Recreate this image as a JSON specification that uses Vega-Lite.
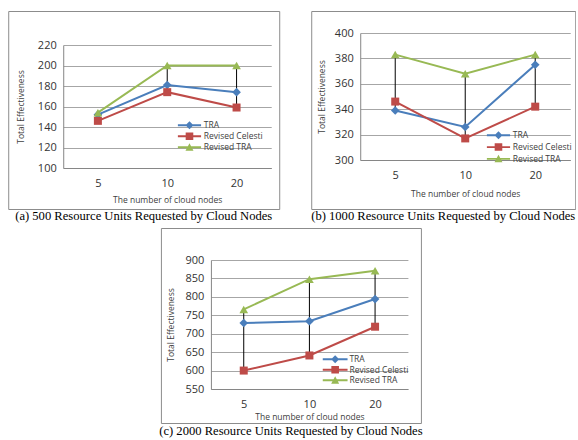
{
  "$schema": "https://vega.github.io/schema/vega-lite/v6.json",
  "padding": {"left": 7, "top": 10, "right": 0, "bottom": 0},
  "background": "white",
  "datasets": {
    "a": [
      {"nodes": 5, "series": "TRA", "value": 152},
      {"nodes": 10, "series": "TRA", "value": 181},
      {"nodes": 20, "series": "TRA", "value": 174},
      {"nodes": 5, "series": "Revised Celesti", "value": 146},
      {"nodes": 10, "series": "Revised Celesti", "value": 174},
      {"nodes": 20, "series": "Revised Celesti", "value": 159},
      {"nodes": 5, "series": "Revised TRA", "value": 154},
      {"nodes": 10, "series": "Revised TRA", "value": 200},
      {"nodes": 20, "series": "Revised TRA", "value": 200}
    ],
    "b": [
      {"nodes": 5, "series": "TRA", "value": 339},
      {"nodes": 10, "series": "TRA", "value": 326},
      {"nodes": 20, "series": "TRA", "value": 375},
      {"nodes": 5, "series": "Revised Celesti", "value": 346},
      {"nodes": 10, "series": "Revised Celesti", "value": 317},
      {"nodes": 20, "series": "Revised Celesti", "value": 342},
      {"nodes": 5, "series": "Revised TRA", "value": 383},
      {"nodes": 10, "series": "Revised TRA", "value": 368},
      {"nodes": 20, "series": "Revised TRA", "value": 383}
    ],
    "c": [
      {"nodes": 5, "series": "TRA", "value": 729},
      {"nodes": 10, "series": "TRA", "value": 734},
      {"nodes": 20, "series": "TRA", "value": 794},
      {"nodes": 5, "series": "Revised Celesti", "value": 600},
      {"nodes": 10, "series": "Revised Celesti", "value": 641},
      {"nodes": 20, "series": "Revised Celesti", "value": 719},
      {"nodes": 5, "series": "Revised TRA", "value": 766},
      {"nodes": 10, "series": "Revised TRA", "value": 848},
      {"nodes": 20, "series": "Revised TRA", "value": 871}
    ]
  },
  "spacing": 3,
  "center": true,
  "resolve": {"scale": {"color": "independent", "shape": "independent"}, "legend": {"color": "independent", "shape": "independent"}},
  "vconcat": [
    {
      "spacing": 30,
      "resolve": {"scale": {"color": "independent", "shape": "independent"}, "legend": {"color": "independent", "shape": "independent"}},
      "hconcat": [
        {
          "width": 271, "height": 198,
          "title": {"text": "(a) 500 Resource Units Requested by Cloud Nodes", "offset": 1},
          "data": {"name": "a"},
          "encoding": {
            "x": {"field": "nodes", "type": "ordinal", "scale": {"type": "point", "range": [55, 263], "padding": 0.5}, "axis": {"title": "The number of cloud nodes", "offset": -41, "titlePadding": 7}},
            "y": {"field": "value", "type": "quantitative", "scale": {"domain": [100, 220], "range": [157, 34], "nice": false, "zero": false}, "axis": {"title": "Total Effectiveness", "offset": -55, "values": [100, 120, 140, 160, 180, 200, 220], "titlePadding": 12}}
          },
          "layer": [
            {"mark": {"type": "point", "filled": true, "size": 0, "opacity": 1},
             "encoding": {
               "color": {"field": "series", "type": "nominal", "scale": {"domain": ["TRA", "Revised Celesti", "Revised TRA"], "range": ["#4A7EBB", "#BE4B48", "#98B954"]},
                 "legend": {"title": null, "orient": "none", "legendX": 177, "legendY": 110, "symbolSize": 64, "labelOffset": 10, "rowPadding": 2, "padding": 0, "symbolStrokeWidth": 0}},
               "shape": {"field": "series", "type": "nominal", "scale": {"domain": ["TRA", "Revised Celesti", "Revised TRA"], "range": ["M-2.9,-0.22L2.9,-0.22L2.9,0.22L-2.9,0.22Z M0,-1L1,0L0,1L-1,0Z", "M-2.9,-0.22L2.9,-0.22L2.9,0.22L-2.9,0.22Z M-0.95,-0.95L0.95,-0.95L0.95,0.95L-0.95,0.95Z", "M-2.9,-0.22L2.9,-0.22L2.9,0.22L-2.9,0.22Z M0,-1L1,0.85L-1,0.85Z"]},
                 "legend": {"title": null, "orient": "none", "legendX": 177, "legendY": 110, "symbolSize": 64, "labelOffset": 10, "rowPadding": 2, "padding": 0, "symbolStrokeWidth": 0}}
             }},
            {"mark": {"type": "rule", "color": "#000000", "strokeWidth": 1}, "encoding": {"y": {"aggregate": "min", "field": "value", "type": "quantitative"}, "y2": {"aggregate": "max", "field": "value"}}},
            {"transform": [{"filter": "datum.series === 'TRA'"}], "mark": {"type": "line", "strokeWidth": 2, "color": "#4A7EBB"}, "encoding": {}},
            {"transform": [{"filter": "datum.series === 'Revised Celesti'"}], "mark": {"type": "line", "strokeWidth": 2, "color": "#BE4B48"}, "encoding": {}},
            {"transform": [{"filter": "datum.series === 'Revised TRA'"}], "mark": {"type": "line", "strokeWidth": 2, "color": "#98B954"}, "encoding": {}},
            {"transform": [{"filter": "datum.series === 'TRA'"}], "mark": {"type": "point", "shape": "diamond", "filled": true, "size": 75, "opacity": 1, "color": "#4A7EBB"}},
            {"transform": [{"filter": "datum.series === 'Revised Celesti'"}], "mark": {"type": "point", "shape": "square", "filled": true, "size": 64, "opacity": 1, "color": "#BE4B48"}},
            {"transform": [{"filter": "datum.series === 'Revised TRA'"}], "mark": {"type": "point", "shape": "triangle-up", "filled": true, "size": 75, "opacity": 1, "color": "#98B954"}}
          ]
        },
        {
          "width": 264, "height": 198,
          "title": {"text": "(b) 1000 Resource Units Requested by Cloud Nodes", "offset": 1},
          "data": {"name": "b"},
          "encoding": {
            "x": {"field": "nodes", "type": "ordinal", "scale": {"type": "point", "range": [49, 259], "padding": 0.5}, "axis": {"title": "The number of cloud nodes", "offset": -49, "titlePadding": 9}},
            "y": {"field": "value", "type": "quantitative", "scale": {"domain": [300, 400], "range": [149, 22], "nice": false, "zero": false}, "axis": {"title": "Total Effectiveness", "offset": -49, "values": [300, 320, 340, 360, 380, 400], "titlePadding": 8}}
          },
          "layer": [
            {"mark": {"type": "point", "filled": true, "size": 0, "opacity": 1},
             "encoding": {
               "color": {"field": "series", "type": "nominal", "scale": {"domain": ["TRA", "Revised Celesti", "Revised TRA"], "range": ["#4A7EBB", "#BE4B48", "#98B954"]},
                 "legend": {"title": null, "orient": "none", "legendX": 183, "legendY": 120, "symbolSize": 64, "labelOffset": 10, "rowPadding": 2.8, "padding": 0, "symbolStrokeWidth": 0}},
               "shape": {"field": "series", "type": "nominal", "scale": {"domain": ["TRA", "Revised Celesti", "Revised TRA"], "range": ["M-2.9,-0.22L2.9,-0.22L2.9,0.22L-2.9,0.22Z M0,-1L1,0L0,1L-1,0Z", "M-2.9,-0.22L2.9,-0.22L2.9,0.22L-2.9,0.22Z M-0.95,-0.95L0.95,-0.95L0.95,0.95L-0.95,0.95Z", "M-2.9,-0.22L2.9,-0.22L2.9,0.22L-2.9,0.22Z M0,-1L1,0.85L-1,0.85Z"]},
                 "legend": {"title": null, "orient": "none", "legendX": 183, "legendY": 120, "symbolSize": 64, "labelOffset": 10, "rowPadding": 2.8, "padding": 0, "symbolStrokeWidth": 0}}
             }},
            {"mark": {"type": "rule", "color": "#000000", "strokeWidth": 1}, "encoding": {"y": {"aggregate": "min", "field": "value", "type": "quantitative"}, "y2": {"aggregate": "max", "field": "value"}}},
            {"transform": [{"filter": "datum.series === 'TRA'"}], "mark": {"type": "line", "strokeWidth": 2, "color": "#4A7EBB"}, "encoding": {}},
            {"transform": [{"filter": "datum.series === 'Revised Celesti'"}], "mark": {"type": "line", "strokeWidth": 2, "color": "#BE4B48"}, "encoding": {}},
            {"transform": [{"filter": "datum.series === 'Revised TRA'"}], "mark": {"type": "line", "strokeWidth": 2, "color": "#98B954"}, "encoding": {}},
            {"transform": [{"filter": "datum.series === 'TRA'"}], "mark": {"type": "point", "shape": "diamond", "filled": true, "size": 75, "opacity": 1, "color": "#4A7EBB"}},
            {"transform": [{"filter": "datum.series === 'Revised Celesti'"}], "mark": {"type": "point", "shape": "square", "filled": true, "size": 64, "opacity": 1, "color": "#BE4B48"}},
            {"transform": [{"filter": "datum.series === 'Revised TRA'"}], "mark": {"type": "point", "shape": "triangle-up", "filled": true, "size": 75, "opacity": 1, "color": "#98B954"}}
          ]
        }
      ]
    },
    {
      "width": 260, "height": 195,
      "title": {"text": "(c) 2000 Resource Units Requested by Cloud Nodes", "offset": 2},
      "data": {"name": "c"},
      "encoding": {
        "x": {"field": "nodes", "type": "ordinal", "scale": {"type": "point", "range": [50, 247], "padding": 0.5}, "axis": {"title": "The number of cloud nodes", "offset": -34, "titlePadding": 3}},
        "y": {"field": "value", "type": "quantitative", "scale": {"domain": [550, 900], "range": [161, 32], "nice": false, "zero": false}, "axis": {"title": "Total Effectiveness", "offset": -50, "values": [550, 600, 650, 700, 750, 800, 850, 900], "titlePadding": 10}}
      },
      "layer": [
        {"mark": {"type": "point", "filled": true, "size": 0, "opacity": 1},
         "encoding": {
           "color": {"field": "series", "type": "nominal", "scale": {"domain": ["TRA", "Revised Celesti", "Revised TRA"], "range": ["#4A7EBB", "#BE4B48", "#98B954"]},
             "legend": {"title": null, "orient": "none", "legendX": 170, "legendY": 127, "symbolSize": 64, "labelOffset": 10, "rowPadding": 1.5, "padding": 0, "symbolStrokeWidth": 0}},
           "shape": {"field": "series", "type": "nominal", "scale": {"domain": ["TRA", "Revised Celesti", "Revised TRA"], "range": ["M-3.1,-0.22L3.1,-0.22L3.1,0.22L-3.1,0.22Z M0,-1L1,0L0,1L-1,0Z", "M-3.1,-0.22L3.1,-0.22L3.1,0.22L-3.1,0.22Z M-0.95,-0.95L0.95,-0.95L0.95,0.95L-0.95,0.95Z", "M-3.1,-0.22L3.1,-0.22L3.1,0.22L-3.1,0.22Z M0,-1L1,0.85L-1,0.85Z"]},
             "legend": {"title": null, "orient": "none", "legendX": 170, "legendY": 127, "symbolSize": 64, "labelOffset": 10, "rowPadding": 1.5, "padding": 0, "symbolStrokeWidth": 0}}
         }},
        {"mark": {"type": "rule", "color": "#000000", "strokeWidth": 1}, "encoding": {"y": {"aggregate": "min", "field": "value", "type": "quantitative"}, "y2": {"aggregate": "max", "field": "value"}}},
        {"transform": [{"filter": "datum.series === 'TRA'"}], "mark": {"type": "line", "strokeWidth": 2, "color": "#4A7EBB"}, "encoding": {}},
        {"transform": [{"filter": "datum.series === 'Revised Celesti'"}], "mark": {"type": "line", "strokeWidth": 2, "color": "#BE4B48"}, "encoding": {}},
        {"transform": [{"filter": "datum.series === 'Revised TRA'"}], "mark": {"type": "line", "strokeWidth": 2, "color": "#98B954"}, "encoding": {}},
        {"transform": [{"filter": "datum.series === 'TRA'"}], "mark": {"type": "point", "shape": "diamond", "filled": true, "size": 75, "opacity": 1, "color": "#4A7EBB"}},
        {"transform": [{"filter": "datum.series === 'Revised Celesti'"}], "mark": {"type": "point", "shape": "square", "filled": true, "size": 64, "opacity": 1, "color": "#BE4B48"}},
        {"transform": [{"filter": "datum.series === 'Revised TRA'"}], "mark": {"type": "point", "shape": "triangle-up", "filled": true, "size": 75, "opacity": 1, "color": "#98B954"}}
      ]
    }
  ],
  "config": {
    "view": {"stroke": "#8c8c8c", "strokeWidth": 1},
    "title": {"orient": "bottom", "anchor": "middle", "font": "Liberation Serif", "fontSize": 12.6, "fontWeight": "normal", "color": "#000000"},
    "axis": {"labelFont": "Open Sans", "labelFontSize": 11, "labelColor": "#333333", "titleFont": "Open Sans", "titleFontSize": 8.5, "titleFontWeight": "normal", "titleColor": "#404040", "domainColor": "#868686", "gridColor": "#a6a6a6", "ticks": false, "labelPadding": 7},
    "axisX": {"grid": false, "labelAngle": 0, "labelPadding": 9},
    "axisY": {"grid": true},
    "legend": {"labelFont": "Open Sans", "labelFontSize": 8.5, "labelColor": "#404040"}
  }
}
